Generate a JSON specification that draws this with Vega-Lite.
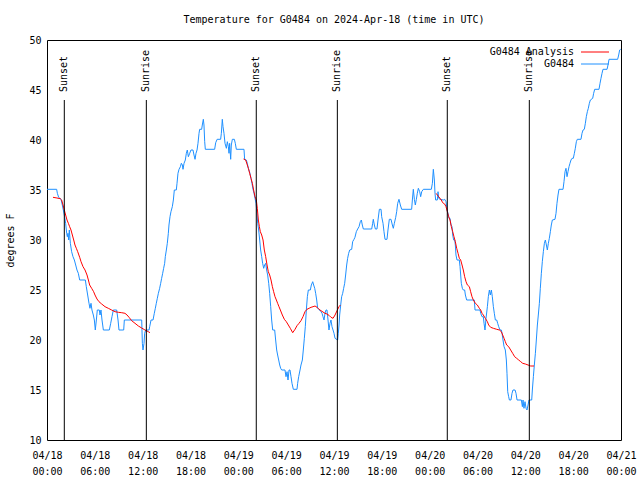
{
"$schema": "https://vega.github.io/schema/vega-lite/v6.json",
"width": 574, "height": 400,
"autosize": "none",
"padding": {"left": 47, "top": 40, "right": 19, "bottom": 40},
"background": "white",
"config": {
 "font": "DejaVu Sans Mono",
 "view": {"stroke": "black", "strokeWidth": 1},
 "axis": {"grid": false, "domain": false, "labelFont": "DejaVu Sans Mono", "labelFontSize": 10, "labelColor": "black", "titleFont": "DejaVu Sans Mono", "titleFontSize": 10, "titleFontWeight": "normal", "titleColor": "black", "tickColor": "black", "tickWidth": 1}
},
"title": {"text": "Temperature for G0484 on 2024-Apr-18 (time in UTC)", "fontSize": 10, "fontWeight": "normal", "font": "DejaVu Sans Mono", "color": "black", "anchor": "middle", "frame": "group", "offset": 10},
"datasets": {
"temps": [
{"series":"G0484","seg":"obs","hour":0.00,"temp":35.07},
{"series":"G0484","seg":"obs","hour":1.21,"temp":35.07},
{"series":"G0484","seg":"obs","hour":1.30,"temp":34.67},
{"series":"G0484","seg":"obs","hour":1.46,"temp":34.27},
{"series":"G0484","seg":"obs","hour":1.76,"temp":34.07},
{"series":"G0484","seg":"obs","hour":1.92,"temp":33.5},
{"series":"G0484","seg":"obs","hour":2.05,"temp":33.0},
{"series":"G0484","seg":"obs","hour":2.17,"temp":32.5},
{"series":"G0484","seg":"obs","hour":2.34,"temp":31.67},
{"series":"G0484","seg":"obs","hour":2.47,"temp":30.67},
{"series":"G0484","seg":"obs","hour":2.55,"temp":30.33},
{"series":"G0484","seg":"obs","hour":2.63,"temp":30.67},
{"series":"G0484","seg":"obs","hour":2.72,"temp":30.0},
{"series":"G0484","seg":"obs","hour":2.80,"temp":31.0},
{"series":"G0484","seg":"obs","hour":2.93,"temp":29.67},
{"series":"G0484","seg":"obs","hour":3.09,"temp":28.83},
{"series":"G0484","seg":"obs","hour":3.26,"temp":28.33},
{"series":"G0484","seg":"obs","hour":3.43,"temp":28.0},
{"series":"G0484","seg":"obs","hour":3.60,"temp":27.5},
{"series":"G0484","seg":"obs","hour":3.76,"temp":27.0},
{"series":"G0484","seg":"obs","hour":3.93,"temp":26.67},
{"series":"G0484","seg":"obs","hour":4.10,"temp":26.0},
{"series":"G0484","seg":"obs","hour":4.81,"temp":26.0},
{"series":"G0484","seg":"obs","hour":4.93,"temp":25.33},
{"series":"G0484","seg":"obs","hour":5.10,"temp":24.5},
{"series":"G0484","seg":"obs","hour":5.27,"temp":23.67},
{"series":"G0484","seg":"obs","hour":5.39,"temp":23.17},
{"series":"G0484","seg":"obs","hour":5.52,"temp":23.67},
{"series":"G0484","seg":"obs","hour":5.64,"temp":23.0},
{"series":"G0484","seg":"obs","hour":5.81,"temp":22.5},
{"series":"G0484","seg":"obs","hour":5.94,"temp":22.0},
{"series":"G0484","seg":"obs","hour":6.06,"temp":21.0},
{"series":"G0484","seg":"obs","hour":6.19,"temp":22.0},
{"series":"G0484","seg":"obs","hour":6.31,"temp":23.0},
{"series":"G0484","seg":"obs","hour":6.56,"temp":23.0},
{"series":"G0484","seg":"obs","hour":6.65,"temp":22.5},
{"series":"G0484","seg":"obs","hour":6.77,"temp":23.0},
{"series":"G0484","seg":"obs","hour":6.90,"temp":22.0},
{"series":"G0484","seg":"obs","hour":7.07,"temp":21.0},
{"series":"G0484","seg":"obs","hour":7.82,"temp":21.0},
{"series":"G0484","seg":"obs","hour":7.99,"temp":21.67},
{"series":"G0484","seg":"obs","hour":8.15,"temp":22.33},
{"series":"G0484","seg":"obs","hour":8.32,"temp":23.0},
{"series":"G0484","seg":"obs","hour":8.74,"temp":23.0},
{"series":"G0484","seg":"obs","hour":8.91,"temp":22.0},
{"series":"G0484","seg":"obs","hour":9.03,"temp":21.0},
{"series":"G0484","seg":"obs","hour":9.62,"temp":21.0},
{"series":"G0484","seg":"obs","hour":9.70,"temp":22.0},
{"series":"G0484","seg":"obs","hour":11.88,"temp":22.0},
{"series":"G0484","seg":"obs","hour":11.96,"temp":19.67},
{"series":"G0484","seg":"obs","hour":12.04,"temp":19.0},
{"series":"G0484","seg":"obs","hour":12.17,"temp":19.67},
{"series":"G0484","seg":"obs","hour":12.25,"temp":20.67},
{"series":"G0484","seg":"obs","hour":12.38,"temp":21.0},
{"series":"G0484","seg":"obs","hour":12.80,"temp":21.0},
{"series":"G0484","seg":"obs","hour":12.88,"temp":21.33},
{"series":"G0484","seg":"obs","hour":13.05,"temp":22.0},
{"series":"G0484","seg":"obs","hour":13.30,"temp":22.0},
{"series":"G0484","seg":"obs","hour":13.46,"temp":22.67},
{"series":"G0484","seg":"obs","hour":13.59,"temp":23.17},
{"series":"G0484","seg":"obs","hour":13.71,"temp":23.67},
{"series":"G0484","seg":"obs","hour":13.84,"temp":24.17},
{"series":"G0484","seg":"obs","hour":13.97,"temp":24.67},
{"series":"G0484","seg":"obs","hour":14.13,"temp":25.17},
{"series":"G0484","seg":"obs","hour":14.26,"temp":25.67},
{"series":"G0484","seg":"obs","hour":14.38,"temp":26.17},
{"series":"G0484","seg":"obs","hour":14.51,"temp":26.67},
{"series":"G0484","seg":"obs","hour":14.63,"temp":27.17},
{"series":"G0484","seg":"obs","hour":14.76,"temp":27.67},
{"series":"G0484","seg":"obs","hour":14.84,"temp":28.33},
{"series":"G0484","seg":"obs","hour":14.97,"temp":29.0},
{"series":"G0484","seg":"obs","hour":15.09,"temp":29.67},
{"series":"G0484","seg":"obs","hour":15.22,"temp":30.67},
{"series":"G0484","seg":"obs","hour":15.30,"temp":31.5},
{"series":"G0484","seg":"obs","hour":15.43,"temp":32.33},
{"series":"G0484","seg":"obs","hour":15.55,"temp":32.83},
{"series":"G0484","seg":"obs","hour":15.72,"temp":33.33},
{"series":"G0484","seg":"obs","hour":15.85,"temp":34.0},
{"series":"G0484","seg":"obs","hour":15.97,"temp":35.0},
{"series":"G0484","seg":"obs","hour":16.22,"temp":35.0},
{"series":"G0484","seg":"obs","hour":16.31,"temp":35.67},
{"series":"G0484","seg":"obs","hour":16.43,"temp":36.67},
{"series":"G0484","seg":"obs","hour":16.56,"temp":37.07},
{"series":"G0484","seg":"obs","hour":16.73,"temp":37.33},
{"series":"G0484","seg":"obs","hour":16.85,"temp":37.67},
{"series":"G0484","seg":"obs","hour":16.98,"temp":37.5},
{"series":"G0484","seg":"obs","hour":17.06,"temp":37.07},
{"series":"G0484","seg":"obs","hour":17.19,"temp":37.67},
{"series":"G0484","seg":"obs","hour":17.35,"temp":38.0},
{"series":"G0484","seg":"obs","hour":17.48,"temp":38.67},
{"series":"G0484","seg":"obs","hour":17.60,"temp":39.0},
{"series":"G0484","seg":"obs","hour":17.73,"temp":38.33},
{"series":"G0484","seg":"obs","hour":17.90,"temp":38.67},
{"series":"G0484","seg":"obs","hour":18.06,"temp":39.0},
{"series":"G0484","seg":"obs","hour":18.31,"temp":39.0},
{"series":"G0484","seg":"obs","hour":18.44,"temp":38.5},
{"series":"G0484","seg":"obs","hour":18.57,"temp":38.07},
{"series":"G0484","seg":"obs","hour":18.69,"temp":38.67},
{"series":"G0484","seg":"obs","hour":18.82,"temp":39.0},
{"series":"G0484","seg":"obs","hour":18.94,"temp":39.67},
{"series":"G0484","seg":"obs","hour":19.07,"temp":40.67},
{"series":"G0484","seg":"obs","hour":19.15,"temp":41.07},
{"series":"G0484","seg":"obs","hour":19.40,"temp":41.07},
{"series":"G0484","seg":"obs","hour":19.48,"temp":41.5},
{"series":"G0484","seg":"obs","hour":19.61,"temp":42.07},
{"series":"G0484","seg":"obs","hour":19.69,"temp":41.5},
{"series":"G0484","seg":"obs","hour":19.78,"temp":39.83},
{"series":"G0484","seg":"obs","hour":19.86,"temp":39.07},
{"series":"G0484","seg":"obs","hour":21.03,"temp":39.07},
{"series":"G0484","seg":"obs","hour":21.16,"temp":39.73},
{"series":"G0484","seg":"obs","hour":21.34,"temp":40.07},
{"series":"G0484","seg":"obs","hour":21.78,"temp":40.07},
{"series":"G0484","seg":"obs","hour":21.87,"temp":40.67},
{"series":"G0484","seg":"obs","hour":21.99,"temp":42.07},
{"series":"G0484","seg":"obs","hour":22.08,"temp":41.33},
{"series":"G0484","seg":"obs","hour":22.20,"temp":40.67},
{"series":"G0484","seg":"obs","hour":22.33,"temp":39.67},
{"series":"G0484","seg":"obs","hour":22.50,"temp":39.17},
{"series":"G0484","seg":"obs","hour":22.62,"temp":39.83},
{"series":"G0484","seg":"obs","hour":22.75,"temp":39.33},
{"series":"G0484","seg":"obs","hour":22.83,"temp":38.67},
{"series":"G0484","seg":"obs","hour":22.91,"temp":39.67},
{"series":"G0484","seg":"obs","hour":23.04,"temp":38.07},
{"series":"G0484","seg":"obs","hour":23.12,"temp":39.5},
{"series":"G0484","seg":"obs","hour":23.25,"temp":40.07},
{"series":"G0484","seg":"obs","hour":23.50,"temp":40.07},
{"series":"G0484","seg":"obs","hour":23.62,"temp":39.67},
{"series":"G0484","seg":"obs","hour":23.75,"temp":39.07},
{"series":"G0484","seg":"obs","hour":24.71,"temp":39.07},
{"series":"G0484","seg":"obs","hour":24.79,"temp":38.07},
{"series":"G0484","seg":"obs","hour":25.00,"temp":38.0},
{"series":"G0484","seg":"obs","hour":25.13,"temp":37.67},
{"series":"G0484","seg":"obs","hour":25.25,"temp":37.17},
{"series":"G0484","seg":"obs","hour":25.30,"temp":37.07},
{"series":"G0484","seg":"obs","hour":25.46,"temp":36.67},
{"series":"G0484","seg":"obs","hour":25.59,"temp":36.17},
{"series":"G0484","seg":"obs","hour":25.71,"temp":35.67},
{"series":"G0484","seg":"obs","hour":25.84,"temp":35.07},
{"series":"G0484","seg":"obs","hour":25.97,"temp":34.67},
{"series":"G0484","seg":"obs","hour":26.09,"temp":34.17},
{"series":"G0484","seg":"obs","hour":26.22,"temp":33.67},
{"series":"G0484","seg":"obs","hour":26.34,"temp":32.67},
{"series":"G0484","seg":"obs","hour":26.43,"temp":31.67},
{"series":"G0484","seg":"obs","hour":26.55,"temp":31.0},
{"series":"G0484","seg":"obs","hour":26.68,"temp":30.0},
{"series":"G0484","seg":"obs","hour":26.80,"temp":29.0},
{"series":"G0484","seg":"obs","hour":26.93,"temp":28.33},
{"series":"G0484","seg":"obs","hour":27.05,"temp":27.67},
{"series":"G0484","seg":"obs","hour":27.18,"temp":27.17},
{"series":"G0484","seg":"obs","hour":27.30,"temp":27.5},
{"series":"G0484","seg":"obs","hour":27.43,"temp":27.67},
{"series":"G0484","seg":"obs","hour":27.55,"temp":27.0},
{"series":"G0484","seg":"obs","hour":27.68,"temp":26.5},
{"series":"G0484","seg":"obs","hour":27.81,"temp":25.67},
{"series":"G0484","seg":"obs","hour":27.93,"temp":24.67},
{"series":"G0484","seg":"obs","hour":28.06,"temp":23.33},
{"series":"G0484","seg":"obs","hour":28.18,"temp":22.0},
{"series":"G0484","seg":"obs","hour":28.31,"temp":21.0},
{"series":"G0484","seg":"obs","hour":28.56,"temp":21.0},
{"series":"G0484","seg":"obs","hour":28.68,"temp":20.0},
{"series":"G0484","seg":"obs","hour":28.81,"temp":19.0},
{"series":"G0484","seg":"obs","hour":28.93,"temp":18.5},
{"series":"G0484","seg":"obs","hour":29.06,"temp":18.0},
{"series":"G0484","seg":"obs","hour":29.19,"temp":17.5},
{"series":"G0484","seg":"obs","hour":29.31,"temp":17.17},
{"series":"G0484","seg":"obs","hour":29.44,"temp":17.0},
{"series":"G0484","seg":"obs","hour":29.85,"temp":17.0},
{"series":"G0484","seg":"obs","hour":29.98,"temp":16.33},
{"series":"G0484","seg":"obs","hour":30.11,"temp":16.83},
{"series":"G0484","seg":"obs","hour":30.23,"temp":16.0},
{"series":"G0484","seg":"obs","hour":30.36,"temp":17.0},
{"series":"G0484","seg":"obs","hour":30.48,"temp":17.0},
{"series":"G0484","seg":"obs","hour":30.61,"temp":16.33},
{"series":"G0484","seg":"obs","hour":30.73,"temp":15.67},
{"series":"G0484","seg":"obs","hour":30.90,"temp":15.07},
{"series":"G0484","seg":"obs","hour":31.36,"temp":15.07},
{"series":"G0484","seg":"obs","hour":31.44,"temp":15.67},
{"series":"G0484","seg":"obs","hour":31.57,"temp":16.33},
{"series":"G0484","seg":"obs","hour":31.74,"temp":17.0},
{"series":"G0484","seg":"obs","hour":31.86,"temp":17.5},
{"series":"G0484","seg":"obs","hour":32.03,"temp":18.0},
{"series":"G0484","seg":"obs","hour":32.15,"temp":19.0},
{"series":"G0484","seg":"obs","hour":32.28,"temp":20.17},
{"series":"G0484","seg":"obs","hour":32.40,"temp":21.33},
{"series":"G0484","seg":"obs","hour":32.53,"temp":23.0},
{"series":"G0484","seg":"obs","hour":32.66,"temp":24.33},
{"series":"G0484","seg":"obs","hour":32.78,"temp":25.0},
{"series":"G0484","seg":"obs","hour":33.03,"temp":25.0},
{"series":"G0484","seg":"obs","hour":33.16,"temp":25.5},
{"series":"G0484","seg":"obs","hour":33.33,"temp":25.83},
{"series":"G0484","seg":"obs","hour":33.45,"temp":25.5},
{"series":"G0484","seg":"obs","hour":33.58,"temp":25.17},
{"series":"G0484","seg":"obs","hour":33.70,"temp":24.67},
{"series":"G0484","seg":"obs","hour":33.83,"temp":24.0},
{"series":"G0484","seg":"obs","hour":33.95,"temp":23.17},
{"series":"G0484","seg":"obs","hour":34.20,"temp":23.0},
{"series":"G0484","seg":"obs","hour":34.37,"temp":22.83},
{"series":"G0484","seg":"obs","hour":34.50,"temp":22.67},
{"series":"G0484","seg":"obs","hour":34.62,"temp":22.33},
{"series":"G0484","seg":"obs","hour":34.75,"temp":22.0},
{"series":"G0484","seg":"obs","hour":34.87,"temp":22.67},
{"series":"G0484","seg":"obs","hour":35.00,"temp":23.0},
{"series":"G0484","seg":"obs","hour":35.12,"temp":23.0},
{"series":"G0484","seg":"obs","hour":35.25,"temp":22.0},
{"series":"G0484","seg":"obs","hour":35.37,"temp":21.0},
{"series":"G0484","seg":"obs","hour":35.50,"temp":21.67},
{"series":"G0484","seg":"obs","hour":35.62,"temp":22.0},
{"series":"G0484","seg":"obs","hour":35.75,"temp":21.33},
{"series":"G0484","seg":"obs","hour":35.88,"temp":21.0},
{"series":"G0484","seg":"obs","hour":36.00,"temp":20.67},
{"series":"G0484","seg":"obs","hour":36.13,"temp":20.17},
{"series":"G0484","seg":"obs","hour":36.46,"temp":20.0},
{"series":"G0484","seg":"obs","hour":36.54,"temp":20.67},
{"series":"G0484","seg":"obs","hour":36.63,"temp":21.5},
{"series":"G0484","seg":"obs","hour":36.71,"temp":22.5},
{"series":"G0484","seg":"obs","hour":36.84,"temp":23.5},
{"series":"G0484","seg":"obs","hour":36.96,"temp":24.33},
{"series":"G0484","seg":"obs","hour":37.09,"temp":24.67},
{"series":"G0484","seg":"obs","hour":37.21,"temp":25.17},
{"series":"G0484","seg":"obs","hour":37.34,"temp":25.67},
{"series":"G0484","seg":"obs","hour":37.46,"temp":26.5},
{"series":"G0484","seg":"obs","hour":37.59,"temp":27.5},
{"series":"G0484","seg":"obs","hour":37.71,"temp":28.17},
{"series":"G0484","seg":"obs","hour":37.84,"temp":28.67},
{"series":"G0484","seg":"obs","hour":37.97,"temp":29.0},
{"series":"G0484","seg":"obs","hour":38.22,"temp":29.07},
{"series":"G0484","seg":"obs","hour":38.34,"temp":29.83},
{"series":"G0484","seg":"obs","hour":38.51,"temp":30.07},
{"series":"G0484","seg":"obs","hour":38.63,"temp":30.27},
{"series":"G0484","seg":"obs","hour":38.80,"temp":30.83},
{"series":"G0484","seg":"obs","hour":38.97,"temp":31.1},
{"series":"G0484","seg":"obs","hour":39.14,"temp":31.33},
{"series":"G0484","seg":"obs","hour":39.30,"temp":31.83},
{"series":"G0484","seg":"obs","hour":39.43,"temp":32.0},
{"series":"G0484","seg":"obs","hour":39.55,"temp":31.5},
{"series":"G0484","seg":"obs","hour":39.68,"temp":31.1},
{"series":"G0484","seg":"obs","hour":40.73,"temp":31.1},
{"series":"G0484","seg":"obs","hour":40.85,"temp":31.67},
{"series":"G0484","seg":"obs","hour":40.93,"temp":32.07},
{"series":"G0484","seg":"obs","hour":41.06,"temp":31.5},
{"series":"G0484","seg":"obs","hour":41.19,"temp":31.1},
{"series":"G0484","seg":"obs","hour":41.39,"temp":31.1},
{"series":"G0484","seg":"obs","hour":41.52,"temp":32.0},
{"series":"G0484","seg":"obs","hour":41.69,"temp":33.07},
{"series":"G0484","seg":"obs","hour":41.90,"temp":33.07},
{"series":"G0484","seg":"obs","hour":41.98,"temp":32.33},
{"series":"G0484","seg":"obs","hour":42.15,"temp":31.67},
{"series":"G0484","seg":"obs","hour":42.27,"temp":30.83},
{"series":"G0484","seg":"obs","hour":42.40,"temp":30.07},
{"series":"G0484","seg":"obs","hour":42.65,"temp":30.07},
{"series":"G0484","seg":"obs","hour":42.77,"temp":31.0},
{"series":"G0484","seg":"obs","hour":42.94,"temp":32.07},
{"series":"G0484","seg":"obs","hour":43.15,"temp":32.07},
{"series":"G0484","seg":"obs","hour":43.32,"temp":31.5},
{"series":"G0484","seg":"obs","hour":43.44,"temp":31.17},
{"series":"G0484","seg":"obs","hour":43.57,"temp":31.67},
{"series":"G0484","seg":"obs","hour":43.74,"temp":32.27},
{"series":"G0484","seg":"obs","hour":43.86,"temp":32.83},
{"series":"G0484","seg":"obs","hour":43.99,"temp":33.67},
{"series":"G0484","seg":"obs","hour":44.15,"temp":34.07},
{"series":"G0484","seg":"obs","hour":44.32,"temp":33.5},
{"series":"G0484","seg":"obs","hour":44.49,"temp":33.07},
{"series":"G0484","seg":"obs","hour":45.74,"temp":33.07},
{"series":"G0484","seg":"obs","hour":45.83,"temp":34.0},
{"series":"G0484","seg":"obs","hour":45.95,"temp":35.07},
{"series":"G0484","seg":"obs","hour":46.08,"temp":34.07},
{"series":"G0484","seg":"obs","hour":46.20,"temp":33.5},
{"series":"G0484","seg":"obs","hour":46.33,"temp":34.07},
{"series":"G0484","seg":"obs","hour":46.45,"temp":34.67},
{"series":"G0484","seg":"obs","hour":46.58,"temp":35.17},
{"series":"G0484","seg":"obs","hour":46.75,"temp":34.83},
{"series":"G0484","seg":"obs","hour":46.87,"temp":34.33},
{"series":"G0484","seg":"obs","hour":47.00,"temp":34.83},
{"series":"G0484","seg":"obs","hour":47.21,"temp":35.07},
{"series":"G0484","seg":"obs","hour":48.21,"temp":35.07},
{"series":"G0484","seg":"obs","hour":48.34,"temp":35.67},
{"series":"G0484","seg":"obs","hour":48.46,"temp":37.07},
{"series":"G0484","seg":"obs","hour":48.59,"temp":36.0},
{"series":"G0484","seg":"obs","hour":48.67,"temp":34.67},
{"series":"G0484","seg":"obs","hour":48.75,"temp":34.0},
{"series":"G0484","seg":"obs","hour":48.96,"temp":34.0},
{"series":"G0484","seg":"obs","hour":49.05,"temp":34.83},
{"series":"G0484","seg":"obs","hour":49.13,"temp":34.17},
{"series":"G0484","seg":"obs","hour":49.30,"temp":34.07},
{"series":"G0484","seg":"obs","hour":49.72,"temp":34.0},
{"series":"G0484","seg":"obs","hour":49.88,"temp":34.07},
{"series":"G0484","seg":"obs","hour":50.05,"temp":33.83},
{"series":"G0484","seg":"obs","hour":50.18,"temp":33.0},
{"series":"G0484","seg":"obs","hour":50.30,"temp":32.67},
{"series":"G0484","seg":"obs","hour":50.43,"temp":32.17},
{"series":"G0484","seg":"obs","hour":50.55,"temp":32.17},
{"series":"G0484","seg":"obs","hour":50.68,"temp":31.5},
{"series":"G0484","seg":"obs","hour":50.80,"temp":31.33},
{"series":"G0484","seg":"obs","hour":50.89,"temp":30.5},
{"series":"G0484","seg":"obs","hour":51.01,"temp":30.0},
{"series":"G0484","seg":"obs","hour":51.14,"temp":30.0},
{"series":"G0484","seg":"obs","hour":51.22,"temp":29.5},
{"series":"G0484","seg":"obs","hour":51.30,"temp":28.5},
{"series":"G0484","seg":"obs","hour":51.43,"temp":28.0},
{"series":"G0484","seg":"obs","hour":51.72,"temp":28.0},
{"series":"G0484","seg":"obs","hour":51.81,"temp":27.33},
{"series":"G0484","seg":"obs","hour":51.89,"temp":26.5},
{"series":"G0484","seg":"obs","hour":51.97,"temp":25.67},
{"series":"G0484","seg":"obs","hour":52.10,"temp":25.17},
{"series":"G0484","seg":"obs","hour":52.22,"temp":25.0},
{"series":"G0484","seg":"obs","hour":52.39,"temp":25.0},
{"series":"G0484","seg":"obs","hour":52.48,"temp":24.5},
{"series":"G0484","seg":"obs","hour":52.64,"temp":24.0},
{"series":"G0484","seg":"obs","hour":53.60,"temp":24.0},
{"series":"G0484","seg":"obs","hour":53.69,"temp":23.0},
{"series":"G0484","seg":"obs","hour":54.32,"temp":23.0},
{"series":"G0484","seg":"obs","hour":54.40,"temp":22.67},
{"series":"G0484","seg":"obs","hour":54.57,"temp":22.33},
{"series":"G0484","seg":"obs","hour":54.73,"temp":22.33},
{"series":"G0484","seg":"obs","hour":54.82,"temp":21.67},
{"series":"G0484","seg":"obs","hour":54.94,"temp":21.0},
{"series":"G0484","seg":"obs","hour":55.07,"temp":22.17},
{"series":"G0484","seg":"obs","hour":55.24,"temp":23.33},
{"series":"G0484","seg":"obs","hour":55.36,"temp":24.33},
{"series":"G0484","seg":"obs","hour":55.49,"temp":25.0},
{"series":"G0484","seg":"obs","hour":55.61,"temp":24.5},
{"series":"G0484","seg":"obs","hour":55.74,"temp":25.0},
{"series":"G0484","seg":"obs","hour":55.86,"temp":24.33},
{"series":"G0484","seg":"obs","hour":55.99,"temp":23.33},
{"series":"G0484","seg":"obs","hour":56.11,"temp":22.67},
{"series":"G0484","seg":"obs","hour":56.24,"temp":22.0},
{"series":"G0484","seg":"obs","hour":56.41,"temp":22.0},
{"series":"G0484","seg":"obs","hour":56.53,"temp":21.67},
{"series":"G0484","seg":"obs","hour":56.66,"temp":21.33},
{"series":"G0484","seg":"obs","hour":56.82,"temp":21.0},
{"series":"G0484","seg":"obs","hour":56.99,"temp":21.0},
{"series":"G0484","seg":"obs","hour":57.08,"temp":20.67},
{"series":"G0484","seg":"obs","hour":57.20,"temp":20.0},
{"series":"G0484","seg":"obs","hour":57.33,"temp":19.33},
{"series":"G0484","seg":"obs","hour":57.49,"temp":19.0},
{"series":"G0484","seg":"obs","hour":57.62,"temp":18.0},
{"series":"G0484","seg":"obs","hour":57.70,"temp":16.67},
{"series":"G0484","seg":"obs","hour":57.79,"temp":14.83},
{"series":"G0484","seg":"obs","hour":57.91,"temp":14.33},
{"series":"G0484","seg":"obs","hour":58.00,"temp":14.0},
{"series":"G0484","seg":"obs","hour":58.20,"temp":14.0},
{"series":"G0484","seg":"obs","hour":58.33,"temp":14.67},
{"series":"G0484","seg":"obs","hour":58.45,"temp":15.0},
{"series":"G0484","seg":"obs","hour":58.71,"temp":15.0},
{"series":"G0484","seg":"obs","hour":58.83,"temp":14.67},
{"series":"G0484","seg":"obs","hour":58.96,"temp":14.0},
{"series":"G0484","seg":"obs","hour":59.50,"temp":14.0},
{"series":"G0484","seg":"obs","hour":59.63,"temp":13.33},
{"series":"G0484","seg":"obs","hour":59.71,"temp":14.0},
{"series":"G0484","seg":"obs","hour":59.83,"temp":13.17},
{"series":"G0484","seg":"obs","hour":59.96,"temp":13.83},
{"series":"G0484","seg":"obs","hour":60.09,"temp":13.17},
{"series":"G0484","seg":"obs","hour":60.21,"temp":13.0},
{"series":"G0484","seg":"obs","hour":60.34,"temp":13.5},
{"series":"G0484","seg":"obs","hour":60.46,"temp":14.0},
{"series":"G0484","seg":"obs","hour":60.80,"temp":14.0},
{"series":"G0484","seg":"obs","hour":60.88,"temp":15.0},
{"series":"G0484","seg":"obs","hour":61.01,"temp":16.33},
{"series":"G0484","seg":"obs","hour":61.13,"temp":17.5},
{"series":"G0484","seg":"obs","hour":61.26,"temp":18.67},
{"series":"G0484","seg":"obs","hour":61.38,"temp":20.0},
{"series":"G0484","seg":"obs","hour":61.51,"temp":21.5},
{"series":"G0484","seg":"obs","hour":61.63,"temp":22.5},
{"series":"G0484","seg":"obs","hour":61.76,"temp":23.67},
{"series":"G0484","seg":"obs","hour":61.88,"temp":25.17},
{"series":"G0484","seg":"obs","hour":62.01,"temp":26.67},
{"series":"G0484","seg":"obs","hour":62.13,"temp":27.83},
{"series":"G0484","seg":"obs","hour":62.26,"temp":28.83},
{"series":"G0484","seg":"obs","hour":62.39,"temp":29.67},
{"series":"G0484","seg":"obs","hour":62.51,"temp":30.0},
{"series":"G0484","seg":"obs","hour":62.64,"temp":29.5},
{"series":"G0484","seg":"obs","hour":62.76,"temp":29.0},
{"series":"G0484","seg":"obs","hour":62.89,"temp":29.67},
{"series":"G0484","seg":"obs","hour":63.01,"temp":30.17},
{"series":"G0484","seg":"obs","hour":63.14,"temp":30.83},
{"series":"G0484","seg":"obs","hour":63.26,"temp":31.5},
{"series":"G0484","seg":"obs","hour":63.39,"temp":32.0},
{"series":"G0484","seg":"obs","hour":63.72,"temp":32.07},
{"series":"G0484","seg":"obs","hour":63.85,"temp":32.67},
{"series":"G0484","seg":"obs","hour":63.97,"temp":33.67},
{"series":"G0484","seg":"obs","hour":64.10,"temp":34.5},
{"series":"G0484","seg":"obs","hour":64.22,"temp":35.07},
{"series":"G0484","seg":"obs","hour":64.73,"temp":35.07},
{"series":"G0484","seg":"obs","hour":64.85,"temp":35.83},
{"series":"G0484","seg":"obs","hour":64.98,"temp":36.83},
{"series":"G0484","seg":"obs","hour":65.10,"temp":37.17},
{"series":"G0484","seg":"obs","hour":65.23,"temp":36.33},
{"series":"G0484","seg":"obs","hour":65.35,"temp":36.83},
{"series":"G0484","seg":"obs","hour":65.48,"temp":37.33},
{"series":"G0484","seg":"obs","hour":65.60,"temp":37.67},
{"series":"G0484","seg":"obs","hour":65.73,"temp":38.0},
{"series":"G0484","seg":"obs","hour":65.86,"temp":38.17},
{"series":"G0484","seg":"obs","hour":66.02,"temp":38.17},
{"series":"G0484","seg":"obs","hour":66.15,"temp":38.67},
{"series":"G0484","seg":"obs","hour":66.27,"temp":39.17},
{"series":"G0484","seg":"obs","hour":66.40,"temp":39.83},
{"series":"G0484","seg":"obs","hour":66.52,"temp":40.07},
{"series":"G0484","seg":"obs","hour":66.98,"temp":40.07},
{"series":"G0484","seg":"obs","hour":67.11,"temp":40.67},
{"series":"G0484","seg":"obs","hour":67.24,"temp":41.0},
{"series":"G0484","seg":"obs","hour":67.40,"temp":41.07},
{"series":"G0484","seg":"obs","hour":67.53,"temp":41.67},
{"series":"G0484","seg":"obs","hour":67.65,"temp":42.33},
{"series":"G0484","seg":"obs","hour":67.78,"temp":42.83},
{"series":"G0484","seg":"obs","hour":67.90,"temp":43.17},
{"series":"G0484","seg":"obs","hour":68.03,"temp":43.67},
{"series":"G0484","seg":"obs","hour":68.16,"temp":44.0},
{"series":"G0484","seg":"obs","hour":68.45,"temp":44.17},
{"series":"G0484","seg":"obs","hour":68.57,"temp":44.67},
{"series":"G0484","seg":"obs","hour":68.70,"temp":45.07},
{"series":"G0484","seg":"obs","hour":69.24,"temp":45.07},
{"series":"G0484","seg":"obs","hour":69.37,"temp":45.67},
{"series":"G0484","seg":"obs","hour":69.49,"temp":46.17},
{"series":"G0484","seg":"obs","hour":69.62,"temp":46.67},
{"series":"G0484","seg":"obs","hour":69.74,"temp":47.07},
{"series":"G0484","seg":"obs","hour":70.25,"temp":47.07},
{"series":"G0484","seg":"obs","hour":70.37,"temp":47.5},
{"series":"G0484","seg":"obs","hour":70.50,"temp":48.07},
{"series":"G0484","seg":"obs","hour":71.58,"temp":48.07},
{"series":"G0484","seg":"obs","hour":71.71,"temp":48.5},
{"series":"G0484","seg":"obs","hour":71.83,"temp":49.0},
{"series":"G0484","seg":"obs","hour":71.96,"temp":49.07},
{"series":"G0484 Analysis","seg":"night1","hour":0.75,"temp":34.27},
{"series":"G0484 Analysis","seg":"night1","hour":1.25,"temp":34.2},
{"series":"G0484 Analysis","seg":"night1","hour":1.67,"temp":34.13},
{"series":"G0484 Analysis","seg":"night1","hour":1.84,"temp":34.0},
{"series":"G0484 Analysis","seg":"night1","hour":2.01,"temp":33.5},
{"series":"G0484 Analysis","seg":"night1","hour":2.17,"temp":33.0},
{"series":"G0484 Analysis","seg":"night1","hour":2.34,"temp":32.5},
{"series":"G0484 Analysis","seg":"night1","hour":2.51,"temp":32.0},
{"series":"G0484 Analysis","seg":"night1","hour":2.68,"temp":31.67},
{"series":"G0484 Analysis","seg":"night1","hour":2.84,"temp":31.33},
{"series":"G0484 Analysis","seg":"night1","hour":3.01,"temp":31.0},
{"series":"G0484 Analysis","seg":"night1","hour":3.18,"temp":30.5},
{"series":"G0484 Analysis","seg":"night1","hour":3.35,"temp":30.0},
{"series":"G0484 Analysis","seg":"night1","hour":3.51,"temp":29.5},
{"series":"G0484 Analysis","seg":"night1","hour":3.68,"temp":29.17},
{"series":"G0484 Analysis","seg":"night1","hour":3.85,"temp":28.83},
{"series":"G0484 Analysis","seg":"night1","hour":4.10,"temp":28.27},
{"series":"G0484 Analysis","seg":"night1","hour":4.27,"temp":27.83},
{"series":"G0484 Analysis","seg":"night1","hour":4.52,"temp":27.33},
{"series":"G0484 Analysis","seg":"night1","hour":4.77,"temp":27.0},
{"series":"G0484 Analysis","seg":"night1","hour":5.02,"temp":26.5},
{"series":"G0484 Analysis","seg":"night1","hour":5.19,"temp":26.0},
{"series":"G0484 Analysis","seg":"night1","hour":5.35,"temp":25.5},
{"series":"G0484 Analysis","seg":"night1","hour":5.60,"temp":25.17},
{"series":"G0484 Analysis","seg":"night1","hour":5.85,"temp":24.83},
{"series":"G0484 Analysis","seg":"night1","hour":6.02,"temp":24.5},
{"series":"G0484 Analysis","seg":"night1","hour":6.27,"temp":24.1},
{"series":"G0484 Analysis","seg":"night1","hour":6.52,"temp":23.83},
{"series":"G0484 Analysis","seg":"night1","hour":6.86,"temp":23.6},
{"series":"G0484 Analysis","seg":"night1","hour":7.28,"temp":23.33},
{"series":"G0484 Analysis","seg":"night1","hour":7.69,"temp":23.17},
{"series":"G0484 Analysis","seg":"night1","hour":8.11,"temp":23.0},
{"series":"G0484 Analysis","seg":"night1","hour":8.53,"temp":22.83},
{"series":"G0484 Analysis","seg":"night1","hour":8.95,"temp":22.77},
{"series":"G0484 Analysis","seg":"night1","hour":9.37,"temp":22.73},
{"series":"G0484 Analysis","seg":"night1","hour":9.78,"temp":22.67},
{"series":"G0484 Analysis","seg":"night1","hour":10.04,"temp":22.5},
{"series":"G0484 Analysis","seg":"night1","hour":10.29,"temp":22.27},
{"series":"G0484 Analysis","seg":"night1","hour":10.62,"temp":21.93},
{"series":"G0484 Analysis","seg":"night1","hour":11.04,"temp":21.67},
{"series":"G0484 Analysis","seg":"night1","hour":11.46,"temp":21.4},
{"series":"G0484 Analysis","seg":"night1","hour":11.88,"temp":21.2},
{"series":"G0484 Analysis","seg":"night1","hour":12.29,"temp":21.0},
{"series":"G0484 Analysis","seg":"night1","hour":12.71,"temp":20.83},
{"series":"G0484 Analysis","seg":"night1","hour":12.92,"temp":20.73},
{"series":"G0484 Analysis","seg":"night2","hour":24.65,"temp":38.1},
{"series":"G0484 Analysis","seg":"night2","hour":24.92,"temp":38.0},
{"series":"G0484 Analysis","seg":"night2","hour":25.26,"temp":37.17},
{"series":"G0484 Analysis","seg":"night2","hour":25.42,"temp":36.67},
{"series":"G0484 Analysis","seg":"night2","hour":25.59,"temp":36.17},
{"series":"G0484 Analysis","seg":"night2","hour":25.76,"temp":35.67},
{"series":"G0484 Analysis","seg":"night2","hour":25.92,"temp":35.0},
{"series":"G0484 Analysis","seg":"night2","hour":26.09,"temp":34.33},
{"series":"G0484 Analysis","seg":"night2","hour":26.26,"temp":34.0},
{"series":"G0484 Analysis","seg":"night2","hour":26.38,"temp":33.17},
{"series":"G0484 Analysis","seg":"night2","hour":26.51,"temp":32.0},
{"series":"G0484 Analysis","seg":"night2","hour":26.64,"temp":31.33},
{"series":"G0484 Analysis","seg":"night2","hour":26.76,"temp":30.83},
{"series":"G0484 Analysis","seg":"night2","hour":26.93,"temp":30.5},
{"series":"G0484 Analysis","seg":"night2","hour":27.10,"temp":30.0},
{"series":"G0484 Analysis","seg":"night2","hour":27.26,"temp":29.0},
{"series":"G0484 Analysis","seg":"night2","hour":27.43,"temp":28.33},
{"series":"G0484 Analysis","seg":"night2","hour":27.60,"temp":27.5},
{"series":"G0484 Analysis","seg":"night2","hour":27.76,"temp":26.83},
{"series":"G0484 Analysis","seg":"night2","hour":27.93,"temp":26.5},
{"series":"G0484 Analysis","seg":"night2","hour":28.10,"temp":26.0},
{"series":"G0484 Analysis","seg":"night2","hour":28.27,"temp":25.33},
{"series":"G0484 Analysis","seg":"night2","hour":28.43,"temp":24.83},
{"series":"G0484 Analysis","seg":"night2","hour":28.60,"temp":24.33},
{"series":"G0484 Analysis","seg":"night2","hour":28.77,"temp":24.0},
{"series":"G0484 Analysis","seg":"night2","hour":28.93,"temp":23.67},
{"series":"G0484 Analysis","seg":"night2","hour":29.10,"temp":23.33},
{"series":"G0484 Analysis","seg":"night2","hour":29.27,"temp":23.0},
{"series":"G0484 Analysis","seg":"night2","hour":29.52,"temp":22.5},
{"series":"G0484 Analysis","seg":"night2","hour":29.77,"temp":22.07},
{"series":"G0484 Analysis","seg":"night2","hour":30.02,"temp":21.83},
{"series":"G0484 Analysis","seg":"night2","hour":30.27,"temp":21.5},
{"series":"G0484 Analysis","seg":"night2","hour":30.52,"temp":21.17},
{"series":"G0484 Analysis","seg":"night2","hour":30.82,"temp":20.73},
{"series":"G0484 Analysis","seg":"night2","hour":31.11,"temp":21.07},
{"series":"G0484 Analysis","seg":"night2","hour":31.36,"temp":21.43},
{"series":"G0484 Analysis","seg":"night2","hour":31.61,"temp":21.67},
{"series":"G0484 Analysis","seg":"night2","hour":31.86,"temp":21.93},
{"series":"G0484 Analysis","seg":"night2","hour":32.11,"temp":22.33},
{"series":"G0484 Analysis","seg":"night2","hour":32.36,"temp":22.83},
{"series":"G0484 Analysis","seg":"night2","hour":32.61,"temp":23.07},
{"series":"G0484 Analysis","seg":"night2","hour":32.87,"temp":23.17},
{"series":"G0484 Analysis","seg":"night2","hour":33.12,"temp":23.27},
{"series":"G0484 Analysis","seg":"night2","hour":33.37,"temp":23.33},
{"series":"G0484 Analysis","seg":"night2","hour":33.62,"temp":23.4},
{"series":"G0484 Analysis","seg":"night2","hour":33.87,"temp":23.27},
{"series":"G0484 Analysis","seg":"night2","hour":34.12,"temp":23.07},
{"series":"G0484 Analysis","seg":"night2","hour":34.37,"temp":22.93},
{"series":"G0484 Analysis","seg":"night2","hour":34.62,"temp":22.8},
{"series":"G0484 Analysis","seg":"night2","hour":34.87,"temp":22.67},
{"series":"G0484 Analysis","seg":"night2","hour":35.12,"temp":22.6},
{"series":"G0484 Analysis","seg":"night2","hour":35.37,"temp":22.47},
{"series":"G0484 Analysis","seg":"night2","hour":35.62,"temp":22.27},
{"series":"G0484 Analysis","seg":"night2","hour":35.88,"temp":22.17},
{"series":"G0484 Analysis","seg":"night2","hour":36.13,"temp":22.5},
{"series":"G0484 Analysis","seg":"night2","hour":36.38,"temp":22.93},
{"series":"G0484 Analysis","seg":"night2","hour":36.63,"temp":23.33},
{"series":"G0484 Analysis","seg":"night2","hour":36.80,"temp":23.5},
{"series":"G0484 Analysis","seg":"night3","hour":48.80,"temp":34.67},
{"series":"G0484 Analysis","seg":"night3","hour":49.13,"temp":34.33},
{"series":"G0484 Analysis","seg":"night3","hour":49.46,"temp":34.0},
{"series":"G0484 Analysis","seg":"night3","hour":49.63,"temp":33.73},
{"series":"G0484 Analysis","seg":"night3","hour":49.88,"temp":33.6},
{"series":"G0484 Analysis","seg":"night3","hour":50.05,"temp":33.33},
{"series":"G0484 Analysis","seg":"night3","hour":50.22,"temp":32.83},
{"series":"G0484 Analysis","seg":"night3","hour":50.38,"temp":32.33},
{"series":"G0484 Analysis","seg":"night3","hour":50.55,"temp":32.0},
{"series":"G0484 Analysis","seg":"night3","hour":50.72,"temp":31.33},
{"series":"G0484 Analysis","seg":"night3","hour":50.89,"temp":30.83},
{"series":"G0484 Analysis","seg":"night3","hour":51.05,"temp":30.33},
{"series":"G0484 Analysis","seg":"night3","hour":51.22,"temp":29.83},
{"series":"G0484 Analysis","seg":"night3","hour":51.39,"temp":29.17},
{"series":"G0484 Analysis","seg":"night3","hour":51.56,"temp":28.67},
{"series":"G0484 Analysis","seg":"night3","hour":51.72,"temp":28.17},
{"series":"G0484 Analysis","seg":"night3","hour":51.89,"temp":28.0},
{"series":"G0484 Analysis","seg":"night3","hour":52.06,"temp":27.5},
{"series":"G0484 Analysis","seg":"night3","hour":52.22,"temp":27.0},
{"series":"G0484 Analysis","seg":"night3","hour":52.39,"temp":26.33},
{"series":"G0484 Analysis","seg":"night3","hour":52.56,"temp":25.83},
{"series":"G0484 Analysis","seg":"night3","hour":52.73,"temp":25.5},
{"series":"G0484 Analysis","seg":"night3","hour":52.98,"temp":25.33},
{"series":"G0484 Analysis","seg":"night3","hour":53.14,"temp":24.83},
{"series":"G0484 Analysis","seg":"night3","hour":53.31,"temp":24.33},
{"series":"G0484 Analysis","seg":"night3","hour":53.48,"temp":24.0},
{"series":"G0484 Analysis","seg":"night3","hour":53.73,"temp":23.67},
{"series":"G0484 Analysis","seg":"night3","hour":53.98,"temp":23.5},
{"series":"G0484 Analysis","seg":"night3","hour":54.23,"temp":23.17},
{"series":"G0484 Analysis","seg":"night3","hour":54.40,"temp":23.0},
{"series":"G0484 Analysis","seg":"night3","hour":54.57,"temp":22.67},
{"series":"G0484 Analysis","seg":"night3","hour":54.73,"temp":22.5},
{"series":"G0484 Analysis","seg":"night3","hour":54.98,"temp":22.17},
{"series":"G0484 Analysis","seg":"night3","hour":55.24,"temp":21.83},
{"series":"G0484 Analysis","seg":"night3","hour":55.40,"temp":21.5},
{"series":"G0484 Analysis","seg":"night3","hour":55.65,"temp":21.27},
{"series":"G0484 Analysis","seg":"night3","hour":55.99,"temp":21.17},
{"series":"G0484 Analysis","seg":"night3","hour":56.41,"temp":21.07},
{"series":"G0484 Analysis","seg":"night3","hour":56.74,"temp":21.0},
{"series":"G0484 Analysis","seg":"night3","hour":56.99,"temp":20.83},
{"series":"G0484 Analysis","seg":"night3","hour":57.16,"temp":20.5},
{"series":"G0484 Analysis","seg":"night3","hour":57.33,"temp":20.17},
{"series":"G0484 Analysis","seg":"night3","hour":57.49,"temp":19.83},
{"series":"G0484 Analysis","seg":"night3","hour":57.66,"temp":19.5},
{"series":"G0484 Analysis","seg":"night3","hour":57.91,"temp":19.33},
{"series":"G0484 Analysis","seg":"night3","hour":58.16,"temp":19.0},
{"series":"G0484 Analysis","seg":"night3","hour":58.41,"temp":18.67},
{"series":"G0484 Analysis","seg":"night3","hour":58.66,"temp":18.33},
{"series":"G0484 Analysis","seg":"night3","hour":58.91,"temp":18.17},
{"series":"G0484 Analysis","seg":"night3","hour":59.17,"temp":18.0},
{"series":"G0484 Analysis","seg":"night3","hour":59.42,"temp":17.83},
{"series":"G0484 Analysis","seg":"night3","hour":59.67,"temp":17.67},
{"series":"G0484 Analysis","seg":"night3","hour":60.00,"temp":17.6},
{"series":"G0484 Analysis","seg":"night3","hour":60.34,"temp":17.5},
{"series":"G0484 Analysis","seg":"night3","hour":60.67,"temp":17.4},
{"series":"G0484 Analysis","seg":"night3","hour":61.09,"temp":17.4}
],
"sun": [
{"hour": 2.17, "event": "Sunset"},
{"hour": 12.46, "event": "Sunrise"},
{"hour": 26.25, "event": "Sunset"},
{"hour": 36.42, "event": "Sunrise"},
{"hour": 50.21, "event": "Sunset"},
{"hour": 60.50, "event": "Sunrise"}
]
},
"layer": [
{
 "data": {"name": "temps"},
 "mark": {"type": "line", "strokeWidth": 1, "interpolate": "linear"},
 "encoding": {
  "x": {"field": "hour", "type": "quantitative",
   "scale": {"domain": [0, 72], "nice": false, "zero": false},
   "axis": {"orient": "bottom", "title": null, "values": [0,2,4,6,8,10,12,14,16,18,20,22,24,26,28,30,32,34,36,38,40,42,44,46,48,50,52,54,56,58,60,62,64,66,68,70,72],
    "tickSize": 0, "labelPadding": 10, "labelFlush": false, "labelOverlap": false, "labelBound": false, "labelLineHeight": 16,
    "labelExpr": "datum.value % 6 === 0 ? ['04/' + (18 + floor(datum.value / 24)), ((datum.value % 24) < 10 ? '0' : '') + (datum.value % 24) + ':00'] : ''",
    "encode": {"ticks": {"update": {"y2": {"signal": "datum.value % 6 === 0 ? -5 : -3"}}}}}},
  "y": {"field": "temp", "type": "quantitative",
   "scale": {"domain": [10, 50], "nice": false, "zero": false},
   "axis": {"orient": "left", "values": [10,15,20,25,30,35,40,45,50], "tickSize": 0, "labelPadding": 6,
    "title": "degrees F", "titleX": -37, "titleY": 200, "titleAngle": 270, "titleAlign": "center", "titleBaseline": "middle",
    "encode": {"ticks": {"update": {"x2": {"value": 5}}}}}},
  "color": {"field": "series", "type": "nominal",
   "scale": {"domain": ["G0484 Analysis", "G0484"], "range": ["#ff0000", "#1e90ff"]},
   "legend": {"orient": "none", "legendX": 543, "legendY": 7, "title": null, "symbolType": "M-7,0H7", "symbolSize": 16, "symbolStrokeWidth": 1, "labelAlign": "right", "labelOffset": -26, "labelFont": "DejaVu Sans Mono", "labelFontSize": 10, "labelColor": "black", "rowPadding": 2, "padding": 0}},
  "detail": {"field": "seg"}
 }
},
{
 "data": {"name": "sun"},
 "mark": {"type": "rule", "color": "black", "strokeWidth": 1},
 "encoding": {
  "x": {"field": "hour", "type": "quantitative",
   "axis": {"orient": "top", "title": null, "labels": false, "values": [0,2,4,6,8,10,12,14,16,18,20,22,24,26,28,30,32,34,36,38,40,42,44,46,48,50,52,54,56,58,60,62,64,66,68,70,72],
    "tickSize": 0, "encode": {"ticks": {"update": {"y2": {"signal": "datum.value % 6 === 0 ? 5 : 3"}}}}}},
  "y": {"datum": 10, "type": "quantitative",
   "axis": {"orient": "right", "title": null, "labels": false, "values": [10,15,20,25,30,35,40,45,50], "tickSize": 0,
    "encode": {"ticks": {"update": {"x2": {"value": -5}}}}}},
  "y2": {"datum": 44}
 }
},
{
 "data": {"name": "sun"},
 "mark": {"type": "text", "angle": 270, "align": "left", "baseline": "middle", "fontSize": 10, "font": "DejaVu Sans Mono", "color": "black"},
 "encoding": {
  "x": {"field": "hour", "type": "quantitative", "axis": null},
  "y": {"datum": 44.8, "type": "quantitative", "axis": null},
  "text": {"field": "event"}
 }
}
],
"resolve": {"axis": {"x": "independent", "y": "independent"}}
}
